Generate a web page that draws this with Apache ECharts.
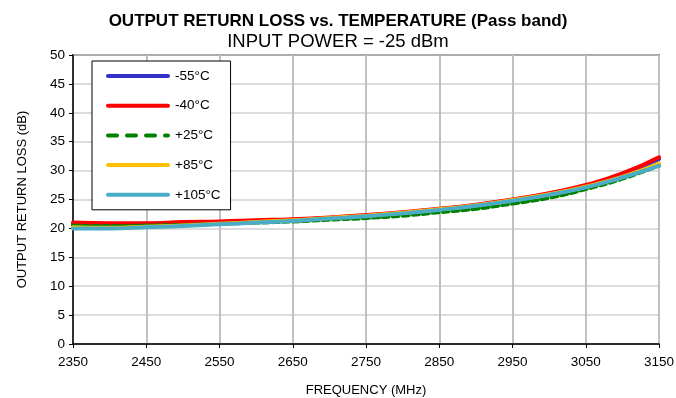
<!DOCTYPE html>
<html><head><meta charset="utf-8">
<script src="https://cdn.jsdelivr.net/npm/echarts@6/dist/echarts.min.js"></script>
<style>html,body{margin:0;padding:0;background:#fff}#c{width:676px;height:398px}</style>
</head><body><div id="c"></div>
<script>
const freq = [2350,2400,2450,2500,2550,2600,2650,2700,2750,2800,2850,2900,2950,3000,3050,3100,3150];
const seriesNames = ['-55°C','-40°C','+25°C','+85°C','+105°C'];
const m55 = [20.8,20.7,20.8,20.9,21.1,21.3,21.5,21.8,22.2,22.7,23.3,24.0,24.9,26.0,27.4,29.3,32.0];
const m40 = [21.0,20.9,20.9,21.1,21.2,21.4,21.6,21.9,22.3,22.8,23.4,24.1,25.0,26.1,27.5,29.5,32.3];
const p25 = [20.5,20.4,20.5,20.6,20.8,21.0,21.2,21.5,21.8,22.2,22.8,23.4,24.3,25.3,26.8,28.6,30.9];
const p85 = [20.2,20.1,20.3,20.5,20.8,21.1,21.4,21.8,22.2,22.7,23.3,24.0,24.9,25.9,27.2,28.9,31.2];
const p105 = [20.0,20.0,20.2,20.4,20.7,21.0,21.3,21.7,22.1,22.6,23.2,23.9,24.8,25.8,27.1,28.8,30.8];
const colors = ['#3333cc','#ff0000','#008000','#ffc000','#4bacc6'];
const xTicks = [2350,2450,2550,2650,2750,2850,2950,3050,3150];
const yTicks = [0,5,10,15,20,25,30,35,40,45,50];

const allData = [m55,m40,p25,p85,p105];
const font = 'Liberation Sans, Arial, sans-serif';
const solidIcon = 'path://M2,0 L62,0 A2,2 0 0 1 62,4 L2,4 A2,2 0 0 1 2,0 Z';
const dashIcon = 'path://M2,0 L11,0 A2,2 0 0 1 11,4 L2,4 A2,2 0 0 1 2,0 Z M21,0 L30,0 A2,2 0 0 1 30,4 L21,4 A2,2 0 0 1 21,0 Z M40,0 L49,0 A2,2 0 0 1 49,4 L40,4 A2,2 0 0 1 40,0 Z M59,0 L62,0 A2,2 0 0 1 62,4 L59,4 A2,2 0 0 1 59,0 Z';
const chart = echarts.init(document.getElementById('c'));
chart.setOption({
  animation:false,
  title:[
    {text:'OUTPUT RETURN LOSS vs. TEMPERATURE (Pass band)',left:'center',top:8,padding:[5,0,5,14],textStyle:{fontFamily:font,fontSize:17,fontWeight:'bold',color:'#000'}},
    {text:'INPUT POWER = -25 dBm',left:'center',top:27,padding:[5,0,5,14],textStyle:{fontFamily:font,fontSize:18.5,fontWeight:'normal',color:'#000'}}
  ],
  grid:{left:73,right:17,top:55,bottom:54,show:true,borderColor:'#000',borderWidth:1.5,containLabel:false,outerBoundsMode:'none'},
  legend:{
    orient:'vertical',left:92,top:61,width:144,height:149,
    padding:[7,10,7,14],itemGap:13.7,itemWidth:64,itemHeight:4,
    backgroundColor:'#fff',borderColor:'#000',borderWidth:1,
    textStyle:{fontFamily:font,fontSize:13.5,color:'#000',lineHeight:16},
    data:seriesNames.map((n,i)=>({name:n,icon:i===2?dashIcon:solidIcon}))
  },
  xAxis:{
    type:'value',min:2350,max:3150,interval:100,
    name:'FREQUENCY (MHz)',nameLocation:'middle',nameGap:40,
    nameTextStyle:{fontFamily:font,fontSize:13,color:'#000'},
    axisLine:{lineStyle:{color:'#000',width:1.5}},
    axisTick:{show:true,length:4,lineStyle:{color:'#000'}},
    axisLabel:{fontFamily:font,fontSize:13.5,color:'#000',margin:11,formatter:v=>String(v)},
    splitLine:{lineStyle:{color:'#c0c0c0',width:2}}
  },
  yAxis:{
    type:'value',min:0,max:50,interval:5,
    name:'OUTPUT RETURN LOSS (dB)',nameLocation:'middle',nameGap:44,
    nameTextStyle:{fontFamily:font,fontSize:13,color:'#000'},
    axisLine:{show:true,lineStyle:{color:'#000',width:1.5}},
    axisTick:{show:true,length:4,lineStyle:{color:'#000'}},
    axisLabel:{fontFamily:font,fontSize:13.5,color:'#000',margin:8},
    splitLine:{lineStyle:{color:'#d0d0d0',width:1.5}}
  },
  series:seriesNames.map((n,i)=>({
    name:n,type:'line',symbol:'none',smooth:true,
    data:freq.map((f,j)=>[f,allData[i][j]]),
    lineStyle:{color:colors[i],width:4,type:i===2?[6,4]:'solid',cap:'round'},
    itemStyle:{color:colors[i]}
  }))
});
</script></body></html>
